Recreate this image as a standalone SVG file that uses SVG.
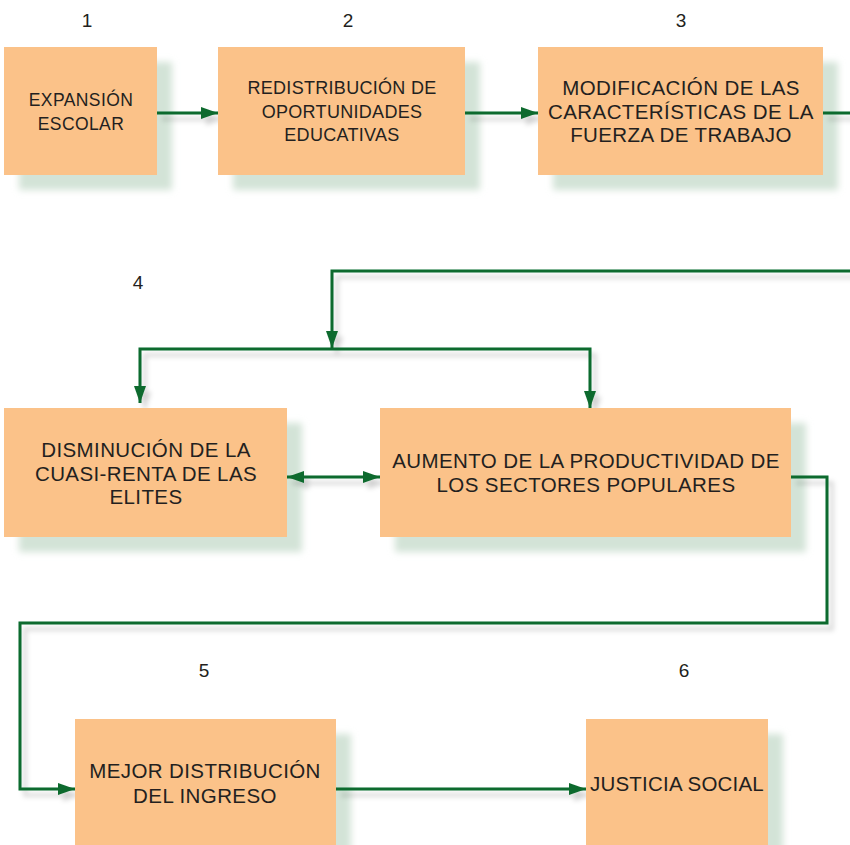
<svg xmlns="http://www.w3.org/2000/svg" width="850" height="845" viewBox="0 0 850 845">
<style>
.box{fill:#fbc289}
.shadow{fill:#d3e3d7;filter:url(#blur)}
.t{font-family:"Liberation Sans",Arial,sans-serif;fill:#231f20;text-anchor:middle}
.num{font-family:"Liberation Sans",Arial,sans-serif;fill:#231f20;text-anchor:middle;font-size:19px}
.c{fill:none;stroke:#0b6a2d;stroke-width:3}
</style>
<defs>
<filter id="blur" x="-20%" y="-20%" width="140%" height="140%"><feGaussianBlur stdDeviation="3.5"/></filter>
<filter id="lsh" x="-5%" y="-5%" width="110%" height="110%">
<feOffset in="SourceAlpha" dx="5" dy="6" result="o"/>
<feGaussianBlur in="o" stdDeviation="2.5" result="b"/>
<feFlood flood-color="#000" flood-opacity="0.18"/>
<feComposite in2="b" operator="in" result="s"/>
<feMerge><feMergeNode in="s"/><feMergeNode in="SourceGraphic"/></feMerge>
</filter>
<marker id="ah" markerUnits="userSpaceOnUse" markerWidth="17" markerHeight="12" refX="17" refY="6" orient="auto-start-reverse">
<path d="M0,0 L17,6 L0,12 z" fill="#0b6a2d"/>
</marker>
</defs>
<rect width="850" height="845" fill="#fff"/>

<g id="shadows">
<rect class="shadow" x="19" y="62" width="153" height="128"/>
<rect class="shadow" x="233" y="62" width="247" height="128"/>
<rect class="shadow" x="553" y="62" width="285" height="128"/>
<rect class="shadow" x="19" y="423" width="283" height="129"/>
<rect class="shadow" x="395" y="423" width="411" height="129"/>
<rect class="shadow" x="90" y="734" width="261" height="130"/>
<rect class="shadow" x="601" y="734" width="182" height="130"/>
</g>

<g id="connectors" filter="url(#lsh)">
<path class="c" d="M157,113 H218" marker-end="url(#ah)"/>
<path class="c" d="M465,113 H538" marker-end="url(#ah)"/>
<path class="c" d="M823,113 H850"/>
<path class="c" d="M850,271 H332 V348" marker-end="url(#ah)"/>
<path class="c" d="M140,403 V349 H590 V408" marker-start="url(#ah)" marker-end="url(#ah)"/>
<path class="c" d="M287,477 H380" marker-start="url(#ah)" marker-end="url(#ah)"/>
<path class="c" d="M791,477 H827 V623 H20 V789 H75" marker-end="url(#ah)"/>
<path class="c" d="M336,789 H586" marker-end="url(#ah)"/>
</g>

<g id="n1">
<text class="num" x="87" y="27">1</text>
<rect class="box" x="4" y="47" width="153" height="128"/>
<text class="t" font-size="17.5" letter-spacing="0.4" x="81" y="106">EXPANSIÓN</text>
<text class="t" font-size="17.5" letter-spacing="0.4" x="81" y="130">ESCOLAR</text>
</g>
<g id="n2">
<text class="num" x="348" y="27">2</text>
<rect class="box" x="218" y="47" width="247" height="128"/>
<text class="t" font-size="18" letter-spacing="0.3" x="342" y="94">REDISTRIBUCIÓN DE</text>
<text class="t" font-size="18" letter-spacing="0.3" x="342" y="117.5">OPORTUNIDADES</text>
<text class="t" font-size="18" letter-spacing="0.3" x="342" y="141">EDUCATIVAS</text>
</g>
<g id="n3">
<text class="num" x="681" y="27">3</text>
<rect class="box" x="538" y="47" width="285" height="128"/>
<text class="t" font-size="20.5" letter-spacing="0.4" x="681" y="95">MODIFICACIÓN DE LAS</text>
<text class="t" font-size="20.5" letter-spacing="0.4" x="681" y="118.5">CARACTERÍSTICAS DE LA</text>
<text class="t" font-size="20.5" letter-spacing="0.4" x="681" y="142">FUERZA DE TRABAJO</text>
</g>
<g id="n4a">
<text class="num" x="138" y="289">4</text>
<rect class="box" x="4" y="408" width="283" height="129"/>
<text class="t" font-size="20.5" letter-spacing="0.4" x="146" y="457">DISMINUCIÓN DE LA</text>
<text class="t" font-size="20.5" letter-spacing="0.4" x="146" y="480.5">CUASI-RENTA DE LAS</text>
<text class="t" font-size="20.5" letter-spacing="0.4" x="146" y="504">ELITES</text>
</g>
<g id="n4b">
<rect class="box" x="380" y="408" width="411" height="129"/>
<text class="t" font-size="20.5" letter-spacing="0.4" x="586" y="468">AUMENTO DE LA PRODUCTIVIDAD DE</text>
<text class="t" font-size="20.5" letter-spacing="0.4" x="586" y="492">LOS SECTORES POPULARES</text>
</g>
<g id="n5">
<text class="num" x="204" y="677">5</text>
<rect class="box" x="75" y="719" width="261" height="130"/>
<text class="t" font-size="20.5" letter-spacing="0.4" x="205" y="778">MEJOR DISTRIBUCIÓN</text>
<text class="t" font-size="20.5" letter-spacing="0.4" x="205" y="802.5">DEL INGRESO</text>
</g>
<g id="n6">
<text class="num" x="684" y="677">6</text>
<rect class="box" x="586" y="719" width="182" height="130"/>
<text class="t" font-size="20.5" letter-spacing="0.2" x="677" y="791">JUSTICIA SOCIAL</text>
</g>
</svg>
